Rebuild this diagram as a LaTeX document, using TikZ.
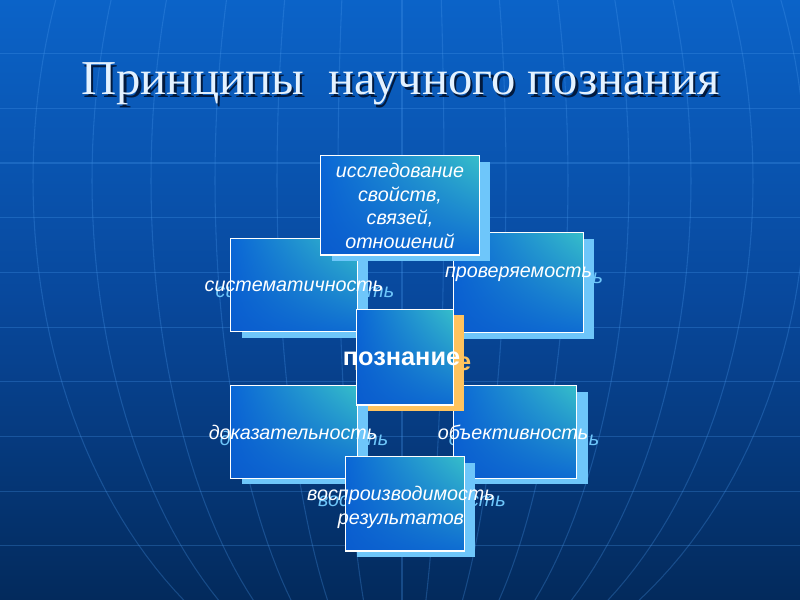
\documentclass[tikz,border=0pt]{standalone}
\usepackage{fontspec}
\usepackage{graphicx}
\setmainfont{Liberation Serif}
\newfontfamily\arialf{Liberation Sans}
\usetikzlibrary{calc,shadings}
\definecolor{bgtop}{HTML}{0B63C8}
\definecolor{bgmid}{HTML}{08489C}
\definecolor{bgbot}{HTML}{032A5C}
\definecolor{gridc}{HTML}{4C9CF0}
\definecolor{shadowc}{HTML}{6EC6FA}
\definecolor{orangec}{HTML}{FFC35E}
\definecolor{boxul}{HTML}{0A66D6}
\definecolor{boxur}{HTML}{36BECA}
\definecolor{boxll}{HTML}{0A5CCE}
\definecolor{boxlr}{HTML}{0E6CD2}
\definecolor{titlec}{HTML}{E4F2FF}
\definecolor{titlesh}{HTML}{021A3E}
\def\shx{11}
\def\shy{6}
\tikzset{
  shbox/.style={rectangle, inner sep=0pt, outer sep=0pt, draw=none},
  frbox/.style={rectangle, inner sep=0pt, outer sep=0pt, draw=white, line width=0.9pt,
     upper left=boxul, upper right=boxur, lower left=boxll, lower right=boxlr},
  btext/.style={anchor=base, inner sep=0pt, align=center, text=white,
     font=\arialf\itshape\fontsize{14.8}{17.8}\selectfont},
  bshtext/.style={btext, text=shadowc},
  ptext/.style={anchor=base, inner sep=0pt, text=white,
     font=\arialf\bfseries\fontsize{19}{22}\selectfont},
  titletext/.style={anchor=base, inner sep=0pt, text=titlec,
     font=\fontsize{36.5}{40}\selectfont},
  gridline/.style={draw=gridc, opacity=0.28, line width=0.8pt},
}
\newcommand\boxsh[6]{%
  \node[shbox, fill=#6, minimum width={(#4-#2)*0.75pt}, minimum height={(#5-#3)*0.75pt}]
    (#1-sh) at ({(#2+#4)/2+\shx},{(#3+#5)/2+\shy}) {};}
\newcommand\boxfr[5]{%
  \node[frbox, minimum width={(#4-#2)*0.75pt}, minimum height={(#5-#3)*0.75pt}]
    (#1) at ({(#2+#4)/2},{(#3+#5)/2}) {};}
\begin{document}
\begin{tikzpicture}[x=0.75pt,y=-0.75pt]
\useasboundingbox (0,0) rectangle (800,600);
% background
\shade[top color=bgtop, bottom color=bgmid] (0,0) rectangle (800,300.5);
\shade[top color=bgmid, bottom color=bgbot] (0,300) rectangle (800,600);
% horizontal grid lines
\foreach \k in {-2,...,7} {
  \draw[gridline] (0,{163+54.7*\k}) -- (800,{163+54.7*\k});
}
% meridians
\foreach \r in {367,308,249,185,123,62} {
  \draw[gridline] plot[domain=-21:54, samples=40, variable=\t] ({400-\r*cos(\t)},{180+520*sin(\t)});
}
\foreach \r in {406,353,291,229,168,106,44} {
  \draw[gridline] plot[domain=-21:54, samples=40, variable=\t] ({400+\r*cos(\t)},{180+520*sin(\t)});
}
\draw[gridline] (402,0) -- (402,600);
% title
\node[titletext, text=titlesh] (title-sh) at (403,97) {Принципы\ \ научного познания};
\node[titletext] (title) at (400.5,94.3) {Принципы\ \ научного познания};
% систематичность
\boxsh{sys}{230.7}{238.3}{357.3}{331.7}{shadowc}
\node[bshtext] (sys-tsh) at (294+\shx,291.7+\shy) {систематичность};
\boxfr{sys}{230.7}{238.3}{357.3}{331.7}
\node[btext] (sys-t) at (294,291.7) {систематичность};
% проверяемость
\boxsh{prov}{453.3}{232.7}{583.3}{332.7}{shadowc}
\node[bshtext] (prov-tsh) at (518.5+\shx,277.7+\shy) {проверяемость};
\boxfr{prov}{453.3}{232.7}{583.3}{332.7}
\node[btext] (prov-t) at (518.5,277.7) {проверяемость};
% доказательность
\boxsh{dok}{230.7}{385.7}{357.3}{478.3}{shadowc}
\node[bshtext] (dok-tsh) at (293+\shx,439+\shy) {доказательность};
\boxfr{dok}{230.7}{385.7}{357.3}{478.3}
\node[btext] (dok-t) at (293,439) {доказательность};
% объективность
\boxsh{obj}{453.3}{385.7}{576.7}{478.3}{shadowc}
\node[bshtext] (obj-tsh) at (513+\shx,439+\shy) {объективность};
\boxfr{obj}{453.3}{385.7}{576.7}{478.3}
\node[btext] (obj-t) at (513,439) {объективность};
% исследование (base = last line)
\boxsh{res}{320.7}{155.7}{479.3}{255}{shadowc}
\node[bshtext] (res-tsh) at (400+\shx,248.7+\shy) {исследование\\свойств,\\связей,\\отношений};
\boxfr{res}{320.7}{155.7}{479.3}{255}
\node[btext] (res-t) at (400,248.7) {исследование\\свойств,\\связей,\\отношений};
% познание
\boxsh{pozn}{356.7}{309.3}{453.3}{405}{orangec}
\node[ptext, text=orangec] (pozn-tsh) at (401.5+\shx,365+5.5) {познание};
\boxfr{pozn}{356.7}{309.3}{453.3}{405}
\node[ptext] (pozn-t) at (401.5,365) {познание};
% воспроизводимость (base = last line)
\boxsh{vosp}{345.7}{456.7}{464.3}{551}{shadowc}
\node[bshtext] (vosp-tsh) at (401+\shx,524+\shy) {воспроизводимость\\результатов};
\boxfr{vosp}{345.7}{456.7}{464.3}{551}
\node[btext] (vosp-t) at (401,524) {воспроизводимость\\результатов};
\end{tikzpicture}
\end{document}
